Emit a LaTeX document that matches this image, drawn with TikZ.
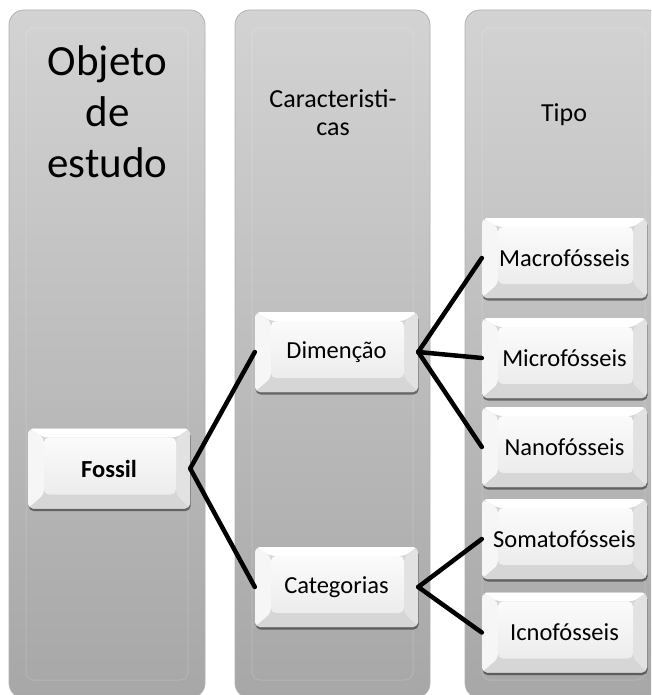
\documentclass[tikz,border=0pt]{standalone}
\usepackage{fontspec}
\setmainfont{Carlito}
\usetikzlibrary{shadows}
\definecolor{coltop}{HTML}{D3D3D3}
\definecolor{colbot}{HTML}{A7A7A7}
\definecolor{colborder}{HTML}{B0B0B0}
\definecolor{bevtop}{HTML}{FFFFFF}
\definecolor{bevleft}{HTML}{F6F6F6}
\definecolor{bevright}{HTML}{E2E2E2}
\definecolor{bevbot}{HTML}{D6D6D6}
\definecolor{facetop}{HTML}{FBFBFB}
\definecolor{facebot}{HTML}{ECECEC}
\tikzset{
  column/.style={draw=colborder, line width=0.8pt, rounded corners=15pt,
    top color=coltop, bottom color=colbot},
  colinner/.style={draw=white, draw opacity=0.15, line width=1pt, rounded corners=8pt},
  hdr/.style={align=center, inner sep=0pt, text=black},
  bevbox/.style={rectangle, rounded corners=5pt, minimum width=163pt, minimum height=80pt,
    inner sep=0pt, fill=bevbot, draw=none, text=black,
    font=\fontsize{24.5}{28}\selectfont,
    drop shadow={shadow xshift=0.6pt, shadow yshift=-2.5pt, opacity=0.45, fill=black},
    path picture={
      \coordinate (pnw) at (path picture bounding box.north west);
      \coordinate (pne) at (path picture bounding box.north east);
      \coordinate (psw) at (path picture bounding box.south west);
      \coordinate (pse) at (path picture bounding box.south east);
      \coordinate (inw) at ([shift={(16pt,-9pt)}]pnw);
      \coordinate (ine) at ([shift={(-14pt,-9pt)}]pne);
      \coordinate (isw) at ([shift={(16pt,14pt)}]psw);
      \coordinate (ise) at ([shift={(-14pt,14pt)}]pse);
      \fill[bevtop] (pnw) -- (pne) -- (ine) -- (inw) -- cycle;
      \fill[bevleft] (pnw) -- (inw) -- (isw) -- (psw) -- cycle;
      \fill[bevright] (pne) -- (ine) -- (ise) -- (pse) -- cycle;
      \fill[bevbot] (psw) -- (isw) -- (ise) -- (pse) -- cycle;
      \shade[top color=facetop, bottom color=facebot] (inw) rectangle (ise);
    }},
  conn/.style={draw=black, line width=4.5pt, line cap=round}
}
\begin{document}
\begin{tikzpicture}[x=1pt,y=1pt]
\useasboundingbox (0,0) rectangle (651,-695);
\begin{scope}
\clip (0,0) rectangle (651,-695);
\path[column] (9,-10) rectangle (205,-698);
\path[column] (235,-10) rectangle (430,-698);
\path[column] (465,-10) rectangle (662,-698);
\path[colinner] (26,-28) rectangle (188,-680);
\path[colinner] (252,-28) rectangle (413,-680);
\path[colinner] (482,-28) rectangle (645,-680);
\end{scope}

\node[hdr, font=\fontsize{43}{51}\selectfont] (h1) at (107.5,-112) {Objeto\\de\\estudo};
\node[hdr, font=\fontsize{26}{28}\selectfont] (h2) at (333,-113) {Caracteristi-\\cas};
\node[hdr, font=\fontsize{26}{28}\selectfont, anchor=base] (h3) at (564,-122) {Tipo};

\node[bevbox, minimum width=162pt, font=\fontsize{24.5}{28}\selectfont\bfseries] (fossil) at (109,-468.5) {Fossil};
\node[bevbox] (dim) at (336.5,-352) {Dimenção};
\node[bevbox] (cat) at (336.5,-587) {Categorias};
\node[bevbox, minimum width=165pt] (macro) at (564.5,-258) {Macrofósseis};
\node[bevbox, minimum width=165pt] (micro) at (564.5,-358) {Microfósseis};
\node[bevbox, minimum width=165pt] (nano) at (564.5,-447) {Nanofósseis};
\node[bevbox, minimum width=165pt] (soma) at (564.5,-539) {Somatofósseis};
\node[bevbox, minimum width=165pt] (icno) at (564.5,-632.5) {Icnofósseis};

\draw[conn] (fossil.east) -- (dim.west);
\draw[conn] (fossil.east) -- (cat.west);
\draw[conn] (dim.east) -- (macro.west);
\draw[conn] (dim.east) -- (micro.west);
\draw[conn] (dim.east) -- (nano.west);
\draw[conn] (cat.east) -- (soma.west);
\draw[conn] (cat.east) -- (icno.west);
\end{tikzpicture}
\end{document}
